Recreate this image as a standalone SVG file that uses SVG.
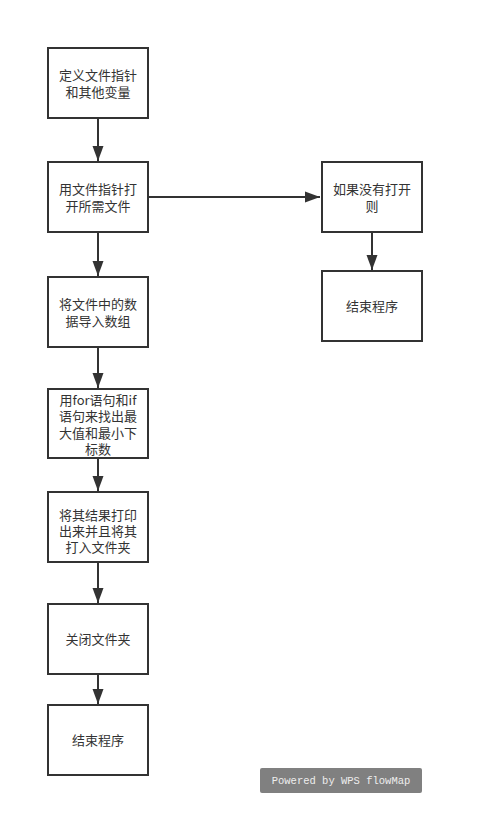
<svg xmlns="http://www.w3.org/2000/svg" width="484" height="837" viewBox="0 0 484 837">
<defs>
<marker id="ah" markerUnits="userSpaceOnUse" markerWidth="16" markerHeight="12" refX="15" refY="6" orient="auto">
<path d="M0,0.5 L15,6 L0,11.5 Z" fill="#333"/>
</marker>
<style>
.box{fill:#fff;stroke:#333;stroke-width:2}
.t{font-family:"Noto Sans CJK SC","Noto Sans",sans-serif;font-size:13px;fill:#333;text-anchor:middle}
.c{fill:none;stroke:#333;stroke-width:2;marker-end:url(#ah)}
.wm{font-family:"Liberation Mono",monospace;font-size:10.5px;fill:#eee;text-anchor:middle}
</style>
</defs>
<rect width="484" height="837" fill="#fff"/>
<g id="connectors">
<line class="c" x1="98" y1="118" x2="98" y2="161"/>
<line class="c" x1="98" y1="232" x2="98" y2="276"/>
<line class="c" x1="98" y1="347" x2="98" y2="388"/>
<line class="c" x1="98" y1="458" x2="98" y2="491"/>
<line class="c" x1="98" y1="562" x2="98" y2="603"/>
<line class="c" x1="98" y1="674" x2="98" y2="704"/>
<line class="c" x1="148" y1="197" x2="320" y2="197"/>
<line class="c" x1="372" y1="232" x2="372" y2="270"/>
</g>
<g id="n1"><rect class="box" x="48" y="48" width="100" height="70"/><text class="t" x="98" y="80"><tspan x="98">定义文件指针</tspan><tspan x="98" dy="17">和其他变量</tspan></text></g>
<g id="n2"><rect class="box" x="48" y="162" width="100" height="70"/><text class="t" x="98" y="194"><tspan x="98">用文件指针打</tspan><tspan x="98" dy="17">开所需文件</tspan></text></g>
<g id="n3"><rect class="box" x="48" y="277" width="100" height="70"/><text class="t" x="98" y="309"><tspan x="98">将文件中的数</tspan><tspan x="98" dy="17">据导入数组</tspan></text></g>
<g id="n4"><rect class="box" x="48" y="389" width="100" height="69"/><text class="t" x="98" y="405"><tspan x="98">用for语句和if</tspan><tspan x="98" dy="16.3">语句来找出最</tspan><tspan x="98" dy="16.3">大值和最小下</tspan><tspan x="98" dy="16.3">标数</tspan></text></g>
<g id="n5"><rect class="box" x="48" y="492" width="100" height="70"/><text class="t" x="98" y="520"><tspan x="98">将其结果打印</tspan><tspan x="98" dy="16">出来并且将其</tspan><tspan x="98" dy="16">打入文件夹</tspan></text></g>
<g id="n6"><rect class="box" x="48" y="604" width="100" height="70"/><text class="t" x="98" y="644">关闭文件夹</text></g>
<g id="n7"><rect class="box" x="48" y="705" width="100" height="70"/><text class="t" x="98" y="745">结束程序</text></g>
<g id="n8"><rect class="box" x="322" y="162" width="100" height="70"/><text class="t" x="372" y="194"><tspan x="372">如果没有打开</tspan><tspan x="372" dy="17">则</tspan></text></g>
<g id="n9"><rect class="box" x="322" y="271" width="100" height="70"/><text class="t" x="372" y="311">结束程序</text></g>
<g id="watermark"><rect x="260" y="768" width="162" height="25" rx="2" fill="#808080"/><text class="wm" x="341" y="784">Powered by WPS flowMap</text></g>
</svg>
